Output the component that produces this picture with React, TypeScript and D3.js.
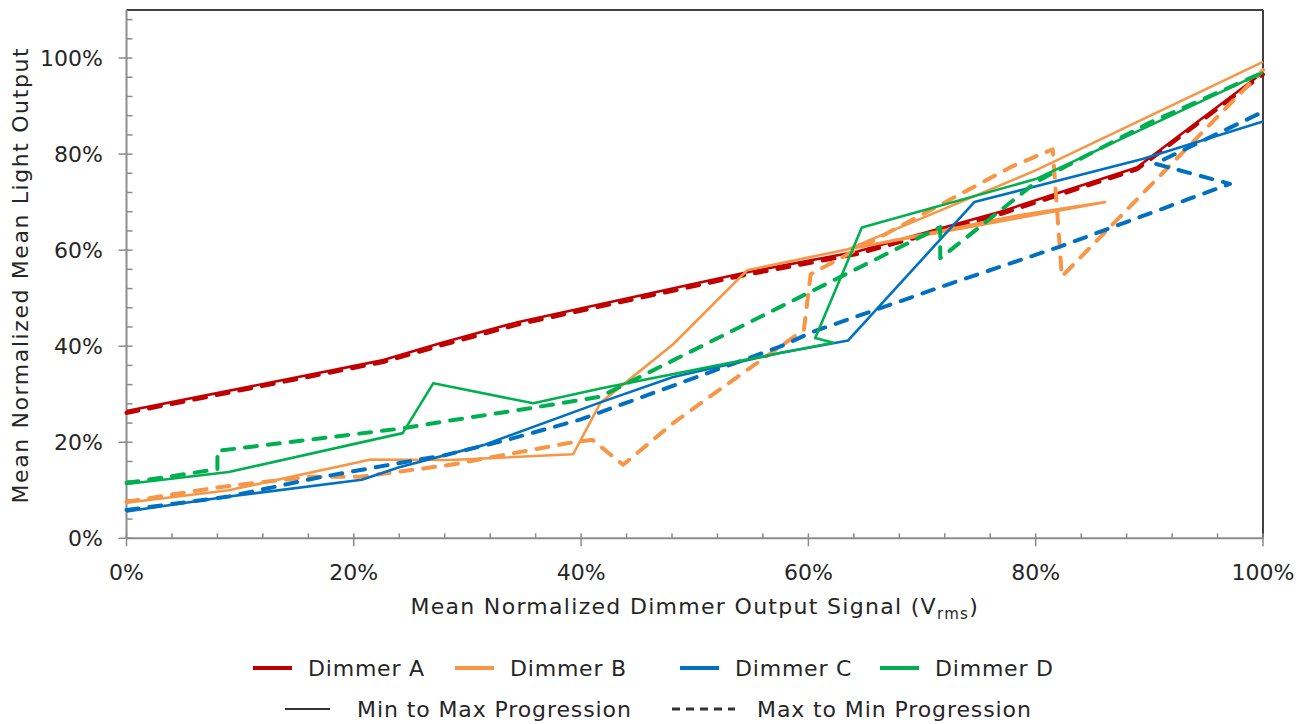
import React from "react";
import * as d3 from "d3";

// Each series is a list of [dimmer output signal %, light output %] points in measurement order.
const dimmerAUp: [number, number][] = [
  [0, 26.5], [22.6, 37.1], [27.6, 40.6], [34.4, 45.0], [54.6, 55.4], [64.3, 59.7], [76.9, 68.0], [88.9, 77.2], [100, 97.0],
];
const dimmerADown: [number, number][] = [
  [0, 26.1], [22.6, 36.7], [27.6, 40.1], [34.4, 44.5], [54.6, 54.9], [64.3, 59.2], [76.9, 67.5], [88.9, 76.8], [100, 96.6],
];
const dimmerBUp: [number, number][] = [
  [0, 7.4], [9, 10.0], [21.5, 16.4], [28.5, 16.3], [39.3, 17.5], [41.7, 28.2], [48.1, 40.4], [54.6, 55.8], [63.5, 60.2],
  [78.6, 67.3], [86.1, 70.0], [63.5, 60.2], [80.0, 76.6], [100, 99.2],
];
const dimmerBDown: [number, number][] = [
  [0, 7.6], [8, 10.6], [16, 12.8], [20.5, 12.8], [28.5, 15.3], [39.3, 20.0], [41.0, 20.5], [43.7, 15.3], [48.1, 24.0],
  [53.4, 33.0], [57.5, 39.9], [59.6, 43.4], [60.2, 55.0], [77.9, 77.4], [81.5, 81.0], [82.3, 54.5], [100, 97.5],
];
const dimmerCUp: [number, number][] = [
  [0, 5.6], [9, 8.7], [20.7, 12.2], [24.0, 14.8], [31.4, 19.4], [41.7, 28.3], [48.1, 33.6], [57.5, 38.6], [63.5, 41.2],
  [74.6, 70.0], [89.4, 79.0], [100, 86.8],
];
const dimmerCDown: [number, number][] = [
  [0, 5.9], [9, 8.7], [17, 12.7], [24.3, 15.8], [28.0, 17.3], [33.5, 20.5], [39.9, 24.7], [48.7, 32.3], [57.5, 39.9],
  [60.4, 43.0], [72.7, 53.2], [82.1, 60.7], [93.3, 70.5], [97.1, 73.8], [90.5, 78.0], [100, 88.8],
];
const dimmerDUp: [number, number][] = [
  [0, 11.3], [9, 13.8], [24.3, 21.9], [27.0, 32.3], [35.8, 28.1], [41.7, 31.2], [57.5, 38.6], [62.2, 40.7], [60.6, 41.7],
  [64.7, 64.7], [80.0, 74.8], [100, 97.0],
];
const dimmerDDown: [number, number][] = [
  [0, 11.5], [8, 14.4], [8, 18.2], [24.3, 22.9], [27.6, 24.2], [35.8, 27.2], [41.7, 29.5], [71.6, 64.8], [71.6, 58.3],
  [80.1, 74.3], [90.0, 86.5], [100, 97.0],
];

const dimmerNames = ["Dimmer A", "Dimmer B", "Dimmer C", "Dimmer D"];
const dimmerColors = ["#C00000", "#F79646", "#0070C0", "#00B050"];
const progressionNames = ["Min to Max Progression", "Max to Min Progression"];

const xTicks = [0, 20, 40, 60, 80, 100];
const yTicks = [0, 20, 40, 60, 80, 100];
const minorTicks = [4, 8, 12, 16, 24, 28, 32, 36, 44, 48, 52, 56, 64, 68, 72, 76, 84, 88, 92, 96];
const yMinorExtra = [104, 108];

const W = 1307;
const H = 724;
const FONT = "'DejaVu Sans', sans-serif";
const TEXT = "#262626";

export default function App() {
  const x = d3.scaleLinear().domain([0, 100]).range([126.5, 1263]);
  const y = d3.scaleLinear().domain([0, 110]).range([538.3, 10]);
  const line = d3
    .line<[number, number]>()
    .x((d) => x(d[0]))
    .y((d) => y(d[1]));

  const series = [
    { data: dimmerADown, color: dimmerColors[0], dashed: true },
    { data: dimmerAUp, color: dimmerColors[0], dashed: false },
    { data: dimmerBDown, color: dimmerColors[1], dashed: true },
    { data: dimmerBUp, color: dimmerColors[1], dashed: false },
    { data: dimmerCDown, color: dimmerColors[2], dashed: true },
    { data: dimmerCUp, color: dimmerColors[2], dashed: false },
    { data: dimmerDDown, color: dimmerColors[3], dashed: true },
    { data: dimmerDUp, color: dimmerColors[3], dashed: false },
  ];

  const x0 = x(0);
  const x1 = x(100);
  const yb = y(0);
  const yt = y(110);

  const legendRow1 = [253, 455, 680, 880];
  const legendRow2 = [285, 672];

  return (
    <svg
      width={W}
      height={H}
      style={{ position: "absolute", left: 0, top: 0, background: "#fff" }}
      fontFamily={FONT}
    >
      <rect x={0} y={0} width={W} height={H} fill="#fff" />

      {/* frame: dark top/right, grey axes */}
      <line x1={x0} x2={x1} y1={yt} y2={yt} stroke="#404040" strokeWidth={2} />
      <line x1={x1} x2={x1} y1={yt} y2={yb} stroke="#404040" strokeWidth={2} />
      <line x1={x0} x2={x0} y1={yt} y2={yb} stroke="#8c8c8c" strokeWidth={2} />
      <line x1={x0} x2={x1} y1={yb} y2={yb} stroke="#8c8c8c" strokeWidth={2} />

      {/* y ticks */}
      {yTicks.map((t) => (
        <line key={"ym" + t} x1={x0 - 8} x2={x0 + 6} y1={y(t)} y2={y(t)} stroke="#8c8c8c" strokeWidth={1.5} />
      ))}
      {[...minorTicks, ...yMinorExtra].map((t) => (
        <line key={"yn" + t} x1={x0} x2={x0 + 6} y1={y(t)} y2={y(t)} stroke="#8c8c8c" strokeWidth={1.5} />
      ))}
      {yTicks.map((t) => (
        <text key={"yl" + t} x={103} y={y(t)} dy="0.36em" textAnchor="end" fontSize={22} fill={TEXT}>
          {t}%
        </text>
      ))}

      {/* x ticks */}
      {xTicks.map((t) => (
        <line key={"xm" + t} x1={x(t)} x2={x(t)} y1={yb - 5} y2={yb + 8} stroke="#8c8c8c" strokeWidth={1.5} />
      ))}
      {minorTicks.map((t) => (
        <line key={"xn" + t} x1={x(t)} x2={x(t)} y1={yb - 5} y2={yb} stroke="#8c8c8c" strokeWidth={1.5} />
      ))}
      {xTicks.map((t) => (
        <text key={"xl" + t} x={x(t)} y={580} textAnchor="middle" fontSize={22} fill={TEXT}>
          {t}%
        </text>
      ))}

      {/* series */}
      {series.map((s, i) => (
        <path
          key={i}
          d={line(s.data) || ""}
          fill="none"
          stroke={s.color}
          strokeWidth={s.dashed ? 4 : 2.6}
          strokeDasharray={s.dashed ? "12 11" : undefined}
          strokeLinecap={s.dashed ? "round" : "butt"}
          strokeLinejoin="round"
        />
      ))}

      {/* axis titles */}
      <text x={(x0 + x1) / 2} y={614} textAnchor="middle" fontSize={22} letterSpacing={1.3} fill={TEXT}>
        Mean Normalized Dimmer Output Signal (V
        <tspan fontSize={15} dy={5}>rms</tspan>
        <tspan dy={-5}>)</tspan>
      </text>
      <text
        transform={`translate(28, ${(yt + yb) / 2 + 1}) rotate(-90)`}
        textAnchor="middle"
        fontSize={22}
        letterSpacing={1.6}
        fill={TEXT}
      >
        Mean Normalized Mean Light Output
      </text>

      {/* legend */}
      {dimmerNames.map((n, i) => (
        <g key={n}>
          <line x1={legendRow1[i]} x2={legendRow1[i] + 39} y1={668} y2={668} stroke={dimmerColors[i]} strokeWidth={4} />
          <text x={legendRow1[i] + 55} y={668} dy="0.36em" fontSize={22} letterSpacing={0.8} fill={TEXT}>
            {n}
          </text>
        </g>
      ))}
      {progressionNames.map((n, i) => (
        <g key={n}>
          <line
            x1={legendRow2[i]}
            x2={legendRow2[i] + (i === 0 ? 45 : 63)}
            y1={709}
            y2={709}
            stroke="#333"
            strokeWidth={i === 0 ? 2 : 3}
            strokeDasharray={i === 0 ? undefined : "8 6"}
          />
          <text x={legendRow2[i] + (i === 0 ? 72 : 85)} y={709} dy="0.36em" fontSize={22} letterSpacing={0.9} fill={TEXT}>
            {n}
          </text>
        </g>
      ))}
    </svg>
  );
}
